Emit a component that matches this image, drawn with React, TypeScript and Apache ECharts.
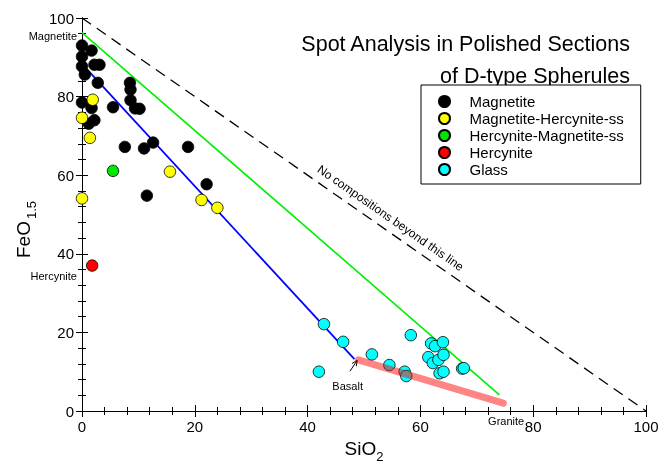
import React, { useEffect, useRef } from 'react';
import * as echarts from 'echarts';

const FONT = '"Liberation Sans", Arial, Helvetica, sans-serif';

// Axis ticks (both axes)
const axisTicks = [0, 20, 40, 60, 80, 100];

// Series data: [SiO2, FeO1.5]
const magnetite: [number, number][] = [
  [0, 93.0], [1.7, 91.7], [0, 90.2], [0, 87.7], [2.2, 88.1], [3.1, 88.1],
  [0.5, 85.6], [2.8, 83.5], [0, 78.5], [1.7, 77.1], [1.2, 73.1], [2.2, 74.0],
  [5.5, 77.3], [8.5, 83.5], [8.6, 81.8], [8.6, 79.1], [9.4, 77.0], [10.2, 76.9],
  [7.6, 67.2], [11.0, 66.8], [12.6, 68.3], [18.8, 67.2], [22.1, 57.7], [11.5, 54.8],
];
const magHercSS: [number, number][] = [
  [1.9, 79.2], [0, 74.6], [1.4, 69.5], [15.6, 60.9], [0, 54.1], [21.2, 53.7], [24.0, 51.7],
];
const hercMagSS: [number, number][] = [[5.5, 61.1]];
const hercynite: [number, number][] = [[1.8, 37.0]];
const glass: [number, number][] = [
  [42.9, 22.1], [46.3, 17.6], [42.0, 10.0], [51.4, 14.4], [54.5, 11.7], [57.2, 10.0],
  [57.5, 8.9], [58.3, 19.3], [61.9, 17.2], [62.6, 16.5], [64.0, 17.5], [61.4, 13.7],
  [62.2, 12.2], [63.2, 13.0], [64.1, 14.3], [63.4, 9.6], [64.1, 10.0], [67.4, 10.8], [67.7, 10.9],
];

// Reference lines
const limitLine: [number, number][] = [[0, 100], [100, 0]];
const greenLine: [number, number][] = [[0, 96.3], [74, 4.1]];
const blueLine: [number, number][] = [[0, 88.3], [48.3, 13.2]];
const basaltGranite: [number, number][] = [[49, 13.0], [74.7, 2.0]];

// Annotation anchor points (data coordinates)
const magnetiteLabelAt: [number, number] = [0, 95.4];
const hercyniteLabelAt: [number, number] = [0, 34.4];
const basaltLabelAt: [number, number] = [47.1, 6.4];
const graniteLabelAt: [number, number] = [75.2, -2.5];
const arrowFrom: [number, number] = [47.5, 10.1];
const arrowTo: [number, number] = [48.8, 12.9];
const limitTextAt: [number, number] = [54.7, 49.1];

const seriesDefs = [
  { name: 'Magnetite', data: magnetite, color: '#000000' },
  { name: 'Magnetite-Hercynite-ss', data: magHercSS, color: '#ffff00' },
  { name: 'Hercynite-Magnetite-ss', data: hercMagSS, color: '#00e600' },
  { name: 'Hercynite', data: hercynite, color: '#ff0000' },
  { name: 'Glass', data: glass, color: '#00ffff' },
];

export default function App() {
  const ref = useRef<HTMLDivElement>(null);
  useEffect(() => {
    document.body.style.margin = '0';
    if (!ref.current) return;
    const chart = echarts.init(ref.current, undefined, { renderer: 'svg' });
    const min = axisTicks[0];
    const max = axisTicks[axisTicks.length - 1];
    const step = axisTicks[1] - axisTicks[0];

    const makeAxis = (position: string, showLabel: boolean) => ({
      type: 'value',
      min,
      max,
      interval: step,
      position,
      splitLine: { show: false },
      axisLine: { show: true, lineStyle: { color: '#000', width: 1 } },
      axisTick: { show: true, inside: true, length: 6, lineStyle: { color: '#000', width: 1 } },
      minorTick: { show: true, splitNumber: 5, length: 4, lineStyle: { color: '#000', width: 1 } },
      axisLabel: showLabel ? { show: true, color: '#000', fontSize: 15, fontFamily: FONT, margin: 8 } : { show: false },
    });

    const lineSeries = (data: [number, number][], color: string, width: number, extra: any = {}) => ({
      type: 'line',
      data,
      symbol: 'none',
      silent: true,
      lineStyle: { color, width, ...extra.lineStyle },
      z: extra.z ?? 1,
    });

    const option: any = {
      animation: false,
      grid: { left: 82, right: 25, top: 18, bottom: 55 },
      xAxis: [
        {
          ...makeAxis('bottom', true),
          name: '{m|SiO}{s|2}',
          nameLocation: 'middle',
          nameGap: 28,
          nameTextStyle: {
            color: '#000',
            fontFamily: FONT,
            rich: {
              m: { fontSize: 19, lineHeight: 24, verticalAlign: 'top', fontFamily: FONT, color: '#000' },
              s: { fontSize: 13, lineHeight: 10, verticalAlign: 'bottom', fontFamily: FONT, color: '#000' },
            },
          },
        },
        makeAxis('top', false),
      ],
      yAxis: [
        {
          ...makeAxis('left', true),
          name: '{m|FeO}{s|1.5}',
          nameLocation: 'middle',
          nameRotate: 90,
          nameGap: 44,
          nameTextStyle: {
            color: '#000',
            fontFamily: FONT,
            padding: [0, 30, 0, 0],
            rich: {
              m: { fontSize: 19, lineHeight: 24, verticalAlign: 'top', fontFamily: FONT, color: '#000' },
              s: { fontSize: 13, lineHeight: 10, verticalAlign: 'bottom', fontFamily: FONT, color: '#000', padding: [0, 0, 0, 2] },
            },
          },
        },
        makeAxis('right', false),
      ],
      legend: {
        orient: 'vertical',
        left: 421,
        top: 85,
        data: seriesDefs.map((s) => ({ name: s.name, icon: 'circle' })),
        itemWidth: 40,
        itemHeight: 11,
        itemGap: 2,
        padding: [9, 17, 7, 17],
        borderColor: '#000',
        borderWidth: 1,
        backgroundColor: '#fff',
        textStyle: { color: '#000', fontSize: 15, fontFamily: FONT },
        selectedMode: false,
      },
      series: [
        lineSeries(limitLine, '#000', 1.3, { lineStyle: { type: [11, 7] } }),
        lineSeries(greenLine, '#00ee00', 1.6),
        lineSeries(blueLine, '#0000ff', 1.8),
        ...seriesDefs.map((s) => ({
          type: 'scatter',
          name: s.name,
          data: s.data,
          symbol: 'circle',
          symbolSize: 11.5,
          itemStyle: { color: s.color, borderColor: '#000', borderWidth: 0.8, opacity: 1 },
          z: 2,
        })),
        {
          type: 'line',
          data: basaltGranite,
          symbol: 'none',
          silent: true,
          lineStyle: { color: 'rgba(255,0,0,0.48)', width: 7, cap: 'round' },
          z: 3,
        },
      ],
    };
    chart.setOption(option);

    const px = (p: [number, number]) => chart.convertToPixel({ gridIndex: 0 }, p) as number[];
    const mPos = px(magnetiteLabelAt);
    const hPos = px(hercyniteLabelAt);
    const bPos = px(basaltLabelAt);
    const gPos = px(graniteLabelAt);
    const a0 = px(arrowFrom);
    const a1 = px(arrowTo);
    const l0 = px(limitLine[0]);
    const l1 = px(limitLine[1]);
    const tPos = px(limitTextAt);
    const angle = Math.atan2(l1[1] - l0[1], l1[0] - l0[0]);
    const dx = a1[0] - a0[0];
    const dy = a1[1] - a0[1];
    const len = Math.hypot(dx, dy);
    const ux = dx / len;
    const uy = dy / len;
    const head = 6;
    const ang = (25 * Math.PI) / 180;
    const rot = (x: number, y: number, t: number) => [x * Math.cos(t) - y * Math.sin(t), x * Math.sin(t) + y * Math.cos(t)];
    const h1 = rot(-ux * head, -uy * head, ang);
    const h2 = rot(-ux * head, -uy * head, -ang);

    const small = { fontSize: 11, fontFamily: FONT, fill: '#000' };
    chart.setOption({
      graphic: [
        { type: 'text', x: mPos[0] - 5, y: mPos[1], style: { ...small, text: 'Magnetite', align: 'right', verticalAlign: 'middle' } },
        { type: 'text', x: hPos[0] - 5, y: hPos[1], style: { ...small, text: 'Hercynite', align: 'right', verticalAlign: 'middle' } },
        { type: 'text', x: bPos[0], y: bPos[1], style: { ...small, text: 'Basalt', align: 'center', verticalAlign: 'middle' } },
        { type: 'text', x: gPos[0], y: gPos[1], style: { ...small, text: 'Granite', align: 'center', verticalAlign: 'middle' } },
        { type: 'line', shape: { x1: a0[0], y1: a0[1], x2: a1[0], y2: a1[1] }, style: { stroke: '#000', lineWidth: 1 } },
        {
          type: 'polyline',
          shape: { points: [[a1[0] + h1[0], a1[1] + h1[1]], [a1[0], a1[1]], [a1[0] + h2[0], a1[1] + h2[1]]] },
          style: { stroke: '#000', lineWidth: 1, fill: 'none' },
        },
        {
          type: 'text',
          x: tPos[0],
          y: tPos[1],
          rotation: -angle,
          style: { text: 'No compositions beyond this line', fontSize: 12, fontFamily: FONT, fill: '#000', align: 'center', verticalAlign: 'middle' },
        },
        {
          type: 'text',
          x: 630,
          y: 43.5,
          style: { text: 'Spot Analysis in Polished Sections', fontSize: 21.5, fontFamily: FONT, fill: '#000', align: 'right', verticalAlign: 'middle' },
        },
        {
          type: 'text',
          x: 630,
          y: 76,
          style: { text: 'of D-type Spherules', fontSize: 21.5, fontFamily: FONT, fill: '#000', align: 'right', verticalAlign: 'middle' },
        },
      ],
    });

    return () => chart.dispose();
  }, []);
  return <div ref={ref} style={{ position: 'fixed', left: 0, top: 0, width: 671, height: 468 }} />;
}
